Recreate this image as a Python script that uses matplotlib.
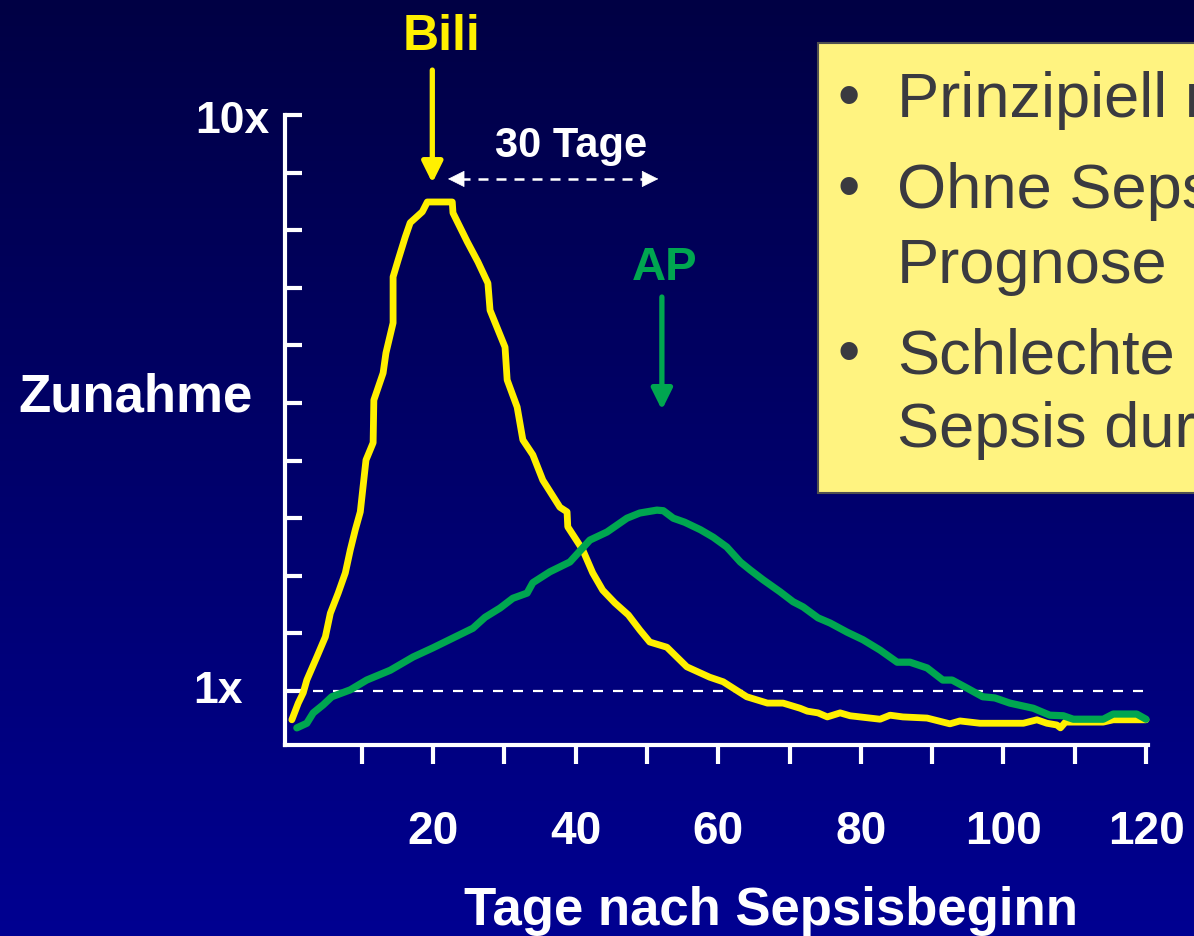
import numpy as np
import matplotlib
matplotlib.use("Agg")
import matplotlib.pyplot as plt
from matplotlib.patches import Rectangle

plt.rcParams['font.family'] = ['Liberation Sans', 'DejaVu Sans']

# ---------------- data ----------------
bili_days = [0.2, 1.1, 1.8, 2.3, 3.7, 4.9, 5.6, 6.7, 7.7, 8.4, 9.1, 9.8, 10.6, 11.6, 11.7,
             13.0, 13.4, 14.4, 14.4, 15.1, 16.1, 16.8, 18.5, 19.2, 22.7, 22.8, 24.8, 26.3,
             27.7, 28.0, 30.1, 30.4, 31.8, 32.6, 34.0, 35.4, 37.8, 38.8, 38.9, 41.0, 42.4,
             43.8, 45.5, 47.4, 49.0, 50.4, 52.8, 55.6, 58.8, 60.7, 64.0, 66.9, 69.1, 71.5,
             72.5, 74.0, 75.3, 77.1, 78.5, 82.7, 84.1, 85.9, 89.3, 92.5, 93.9, 96.7, 102.8,
             104.7, 106.1, 107.5, 108.0, 108.7, 114.0, 115.4, 120.0]
bili_vals = [-0.50, -0.21, -0.03, 0.19, 0.59, 0.94, 1.35, 1.70, 2.05, 2.45, 2.80, 3.11, 4.01,
             4.31, 5.05, 5.52, 5.87, 6.39, 7.19, 7.48, 7.88, 8.13, 8.32, 8.49, 8.49, 8.30,
             7.80, 7.45, 7.08, 6.61, 5.97, 5.40, 4.93, 4.36, 4.10, 3.66, 3.19, 3.11, 2.85,
             2.45, 2.05, 1.75, 1.53, 1.32, 1.06, 0.85, 0.76, 0.42, 0.24, 0.16, -0.10, -0.21,
             -0.21, -0.30, -0.35, -0.38, -0.45, -0.38, -0.43, -0.49, -0.42, -0.45, -0.47,
             -0.57, -0.52, -0.56, -0.56, -0.50, -0.56, -0.59, -0.64, -0.54, -0.54, -0.50, -0.50]

ap_days = [0.9, 2.3, 3.2, 4.6, 5.8, 8.4, 10.7, 14.0, 17.2, 20.0, 22.8, 25.6, 27.3, 29.4,
           31.2, 33.2, 34.0, 36.4, 39.2, 42.0, 44.4, 47.2, 49.0, 51.4, 52.3, 53.7, 55.3,
           57.5, 59.3, 61.2, 63.1, 64.5, 66.3, 68.7, 70.5, 71.9, 74.0, 75.7, 78.1, 80.3,
           82.7, 85.1, 86.9, 89.3, 91.5, 92.8, 94.9, 97.1, 98.8, 100.9, 104.2, 106.5,
           108.4, 109.8, 114.0, 115.4, 118.7, 120.0]
ap_vals = [-0.64, -0.56, -0.38, -0.24, -0.10, 0.02, 0.19, 0.36, 0.59, 0.75, 0.92, 1.09, 1.28,
           1.44, 1.61, 1.70, 1.88, 2.07, 2.24, 2.62, 2.76, 3.00, 3.09, 3.14, 3.13, 3.00,
           2.93, 2.80, 2.67, 2.50, 2.24, 2.10, 1.93, 1.72, 1.55, 1.46, 1.27, 1.18, 1.02,
           0.89, 0.71, 0.50, 0.50, 0.40, 0.19, 0.19, 0.05, -0.10, -0.12, -0.21, -0.30,
           -0.42, -0.43, -0.49, -0.49, -0.40, -0.40, -0.49]

x_ticks = list(range(10, 121, 10))
x_tick_labels = ['' if t % 20 else str(t) for t in x_ticks]
y_ticks = list(range(0, 11))
bullets = ["Prinzipiell reversibel", "Ohne Sepsis", "Prognose",
           "Schlechte", "Sepsis durch"]

# ---------------- figure ----------------
W, H = 1194, 936
fig = plt.figure(figsize=(W / 100, H / 100), dpi=100)

def fx(px):
    return px / W

def fy(py):
    return 1 - py / H

# background gradient
bg = fig.add_axes([0, 0, 1, 1], zorder=-10)
grad = np.linspace(0, 1, 256).reshape(-1, 1)
top = np.array([0, 0, 68]) / 255
bot = np.array([0, 0, 145]) / 255
img = top + (bot - top) * grad[..., None]
bg.imshow(img, aspect='auto', extent=[0, 1, 0, 1])
bg.axis('off')

ax = fig.add_axes([fx(285), fy(745), fx(1148) - fx(285), fy(115) - fy(745)])
ax.set_facecolor('none')
ax.set_xlim(-0.76, 120.28)
ax.set_ylim(-0.9375, 10)

for s in ['top', 'right']:
    ax.spines[s].set_visible(False)
for s in ['left', 'bottom']:
    ax.spines[s].set_color('white')
    ax.spines[s].set_linewidth(3)
    ax.spines[s].set_capstyle('projecting')

ax.set_xticks(x_ticks)
ax.set_xticklabels(x_tick_labels, fontsize=33, fontweight='bold', color='white')
ax.tick_params(axis='x', direction='out', length=14, width=3, color='white', pad=33)
ax.set_yticks(y_ticks)
ax.set_yticklabels([])
ax.tick_params(axis='y', direction='in', length=12.5, width=3, color='white')

# 1x reference line
ax.plot([0.3, 120.5], [0, 0], color='white', lw=1.6, dashes=(4.5, 4.5), zorder=2, clip_on=False)

# curves
ax.plot(bili_days, bili_vals, color='#FFF000', lw=4.9, solid_joinstyle='round',
        solid_capstyle='round', zorder=3, clip_on=False)
ax.plot(ap_days, ap_vals, color='#00A650', lw=5.2, solid_joinstyle='round',
        solid_capstyle='round', zorder=4, clip_on=False)

# arrows
ax.annotate('', xy=(19.9, 8.82), xytext=(19.9, 10.78),
            arrowprops=dict(arrowstyle='-|>,head_length=1.25,head_width=0.62',
                            color='#FFF000', lw=3.8, shrinkA=0, shrinkB=0),
            annotation_clip=False)
ax.annotate('', xy=(52.1, 4.88), xytext=(52.1, 6.84),
            arrowprops=dict(arrowstyle='-|>,head_length=1.25,head_width=0.62',
                            color='#00A650', lw=3.8, shrinkA=0, shrinkB=0),
            annotation_clip=False)
# dashed double arrow (30 Tage)
ax.plot([23.8, 49.9], [8.89, 8.89], color='white', lw=1.8, dashes=(4, 3.2), clip_on=False)
for tip, tail in [((22.1, 8.89), (24.0, 8.89)), ((51.6, 8.89), (49.7, 8.89))]:
    ax.annotate('', xy=tip, xytext=tail,
                arrowprops=dict(arrowstyle='-|>,head_length=1.1,head_width=0.55',
                                color='white', lw=0.5, shrinkA=0, shrinkB=0),
                annotation_clip=False)

# labels
fig.text(fx(441), fy(50), 'Bili', color='#FFF000', fontsize=36, fontweight='bold',
         ha='center', va='baseline')
fig.text(fx(665), fy(280), 'AP', color='#00A650', fontsize=34, fontweight='bold',
         ha='center', va='baseline')
fig.text(fx(571), fy(157), '30 Tage', color='white', fontsize=30, fontweight='bold',
         ha='center', va='baseline')
fig.text(fx(270), fy(133), '10x', color='white', fontsize=32, fontweight='bold',
         ha='right', va='baseline')
fig.text(fx(243), fy(703), '1x', color='white', fontsize=32, fontweight='bold',
         ha='right', va='baseline')
fig.text(fx(136), fy(412), 'Zunahme', color='white', fontsize=38, fontweight='bold',
         ha='center', va='baseline')
fig.text(fx(771), fy(925), 'Tage nach Sepsisbeginn', color='white', fontsize=38,
         fontweight='bold', ha='center', va='baseline')

# text box
fig.patches.append(Rectangle((fx(818), fy(493)), 1.0, fy(43) - fy(493),
                             transform=fig.transFigure, facecolor='#FFF380',
                             edgecolor='#505050', lw=1.5, zorder=5))
baselines = [117, 208, 283, 373, 447]
has_bullet = [True, True, False, True, False]
for txt, b, hb in zip(bullets, baselines, has_bullet):
    if hb:
        fig.text(fx(838), fy(b), '•', color='#3A3A40', fontsize=46, ha='left',
                 va='baseline', zorder=6)
    fig.text(fx(897), fy(b), txt, color='#3A3A40', fontsize=45.5, ha='left',
             va='baseline', zorder=6)

fig.savefig('out.png', dpi=100)
